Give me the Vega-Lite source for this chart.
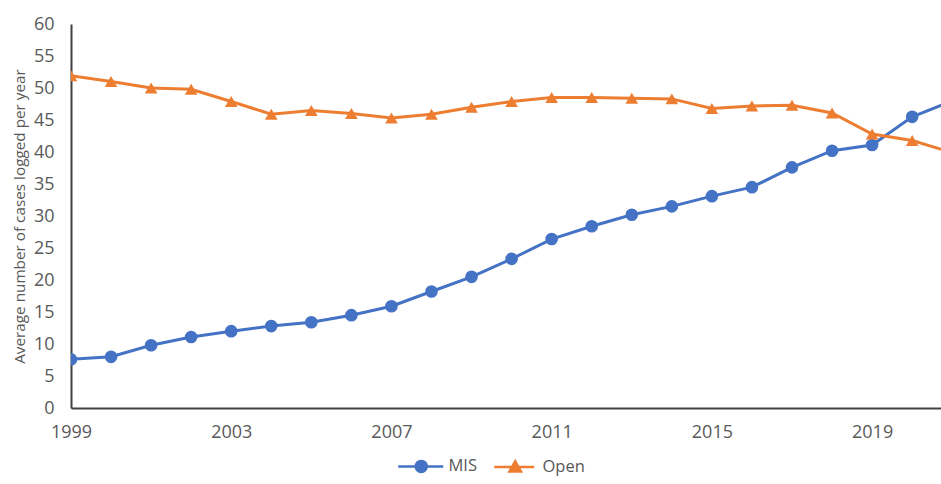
{
  "$schema": "https://vega.github.io/schema/vega-lite/v6.json",
  "width": 870,
  "height": 384,
  "autosize": {"type": "none"},
  "padding": {"left": 71, "top": 24, "right": 0, "bottom": 76},
  "config": {"view": {"stroke": null}, "font": "Open Sans"},
  "data": {"values": [
    {"year": 1999, "series": "MIS", "value": 7.6},
    {"year": 2000, "series": "MIS", "value": 8.0},
    {"year": 2001, "series": "MIS", "value": 9.8},
    {"year": 2002, "series": "MIS", "value": 11.1},
    {"year": 2003, "series": "MIS", "value": 12.0},
    {"year": 2004, "series": "MIS", "value": 12.8},
    {"year": 2005, "series": "MIS", "value": 13.4},
    {"year": 2006, "series": "MIS", "value": 14.5},
    {"year": 2007, "series": "MIS", "value": 15.9},
    {"year": 2008, "series": "MIS", "value": 18.2},
    {"year": 2009, "series": "MIS", "value": 20.5},
    {"year": 2010, "series": "MIS", "value": 23.3},
    {"year": 2011, "series": "MIS", "value": 26.4},
    {"year": 2012, "series": "MIS", "value": 28.4},
    {"year": 2013, "series": "MIS", "value": 30.2},
    {"year": 2014, "series": "MIS", "value": 31.5},
    {"year": 2015, "series": "MIS", "value": 33.1},
    {"year": 2016, "series": "MIS", "value": 34.5},
    {"year": 2017, "series": "MIS", "value": 37.6},
    {"year": 2018, "series": "MIS", "value": 40.2},
    {"year": 2019, "series": "MIS", "value": 41.1},
    {"year": 2020, "series": "MIS", "value": 45.5},
    {"year": 2021, "series": "MIS", "value": 48.0},
    {"year": 1999, "series": "Open", "value": 51.9},
    {"year": 2000, "series": "Open", "value": 51.0},
    {"year": 2001, "series": "Open", "value": 50.0},
    {"year": 2002, "series": "Open", "value": 49.8},
    {"year": 2003, "series": "Open", "value": 47.9},
    {"year": 2004, "series": "Open", "value": 45.9},
    {"year": 2005, "series": "Open", "value": 46.5},
    {"year": 2006, "series": "Open", "value": 46.0},
    {"year": 2007, "series": "Open", "value": 45.3},
    {"year": 2008, "series": "Open", "value": 45.9},
    {"year": 2009, "series": "Open", "value": 47.0},
    {"year": 2010, "series": "Open", "value": 47.9},
    {"year": 2011, "series": "Open", "value": 48.5},
    {"year": 2012, "series": "Open", "value": 48.5},
    {"year": 2013, "series": "Open", "value": 48.4},
    {"year": 2014, "series": "Open", "value": 48.3},
    {"year": 2015, "series": "Open", "value": 46.8},
    {"year": 2016, "series": "Open", "value": 47.2},
    {"year": 2017, "series": "Open", "value": 47.3},
    {"year": 2018, "series": "Open", "value": 46.1},
    {"year": 2019, "series": "Open", "value": 42.8},
    {"year": 2020, "series": "Open", "value": 41.8},
    {"year": 2021, "series": "Open", "value": 39.9}
  ]},
  "encoding": {
    "x": {
      "field": "year", "type": "quantitative",
      "scale": {"domain": [1999, 2020.72], "nice": false, "zero": false},
      "axis": {
        "values": [1999, 2003, 2007, 2011, 2015, 2019], "format": "d",
        "title": null, "grid": false, "ticks": false,
        "domainColor": "#404040", "domainWidth": 2,
        "labelFontSize": 18, "labelColor": "#595959", "labelPadding": 15,
        "labelFont": "Open Sans", "labelFlush": false
      }
    },
    "y": {
      "field": "value", "type": "quantitative",
      "scale": {"domain": [0, 60], "nice": false},
      "axis": {
        "values": [0, 5, 10, 15, 20, 25, 30, 35, 40, 45, 50, 55, 60],
        "title": "Average number of cases logged per year",
        "grid": false, "ticks": false,
        "domainColor": "#404040", "domainWidth": 2,
        "labelFontSize": 18, "labelColor": "#595959", "labelPadding": 17,
        "labelFont": "Open Sans",
        "titleFont": "Open Sans", "titleFontSize": 15.3, "titleFontWeight": "normal",
        "titleColor": "#595959", "titleX": -52, "titleY": 192,
        "titleAlign": "center", "titleBaseline": "middle", "titleAngle": -90
      }
    },
    "color": {
      "field": "series", "type": "nominal",
      "scale": {"domain": ["MIS", "Open"], "range": ["#4472C4", "#ED7D31"]},
      "legend": {
        "orient": "none", "legendX": 342, "legendY": 434,
        "direction": "horizontal", "title": null, "padding": 0,
        "symbolSize": 100, "labelOffset": 19, "labelFontSize": 16.5,
        "labelFont": "Open Sans", "labelColor": "#595959",
        "columnPadding": 12, "symbolOpacity": 1,
        "encode": {
          "symbols": {
            "update": {
              "shape": {"signal": "datum.value === 'MIS' ? 'M -4.6 0 L 4.4 0 M 1.1 0 A 1.1 1.1 0 1 1 -1.1 0 A 1.1 1.1 0 1 1 1.1 0 Z' : 'M -4.2 0 L 3.8 0 M 0 -1.1 L 1.15 0.9 L -1.15 0.9 Z'"},
              "stroke": {"scale": "color", "field": "value"},
              "fill": {"scale": "color", "field": "value"},
              "strokeWidth": {"value": 2.5}
            }
          }
        }
      }
    }
  },
  "layer": [
    {
      "mark": {"type": "line", "strokeWidth": 3, "clip": true}
    },
    {
      "transform": [{"filter": "datum.series === 'MIS'"}],
      "mark": {"type": "point", "filled": true, "opacity": 1, "size": 160, "shape": "circle", "clip": true}
    },
    {
      "transform": [{"filter": "datum.series === 'Open'"}],
      "mark": {"type": "point", "filled": true, "opacity": 1, "size": 160, "shape": "triangle-up", "clip": true}
    }
  ]
}
